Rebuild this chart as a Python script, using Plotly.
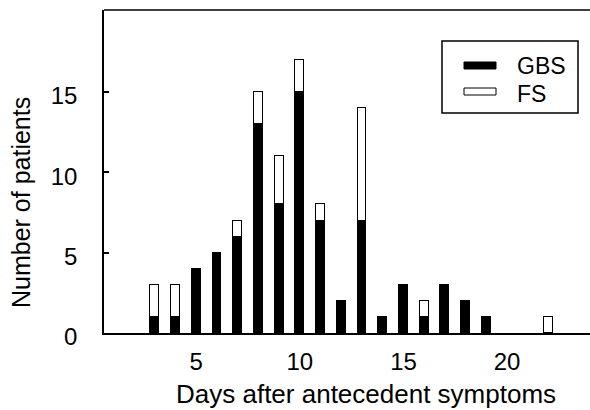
import plotly.graph_objects as go

days = [3, 4, 5, 6, 7, 8, 9, 10, 11, 12, 13, 14, 15, 16, 17, 18, 19, 22]
gbs = [1, 1, 4, 5, 6, 13, 8, 15, 7, 2, 7, 1, 3, 1, 3, 2, 1, 0]
fs = [2, 2, 0, 0, 1, 2, 3, 2, 1, 0, 7, 0, 0, 1, 0, 0, 0, 1]
x_ticks = [5, 10, 15, 20]
y_ticks = [0, 5, 10, 15]
series_names = ["GBS", "FS"]
x_title = "Days after antecedent symptoms"
y_title = "Number of patients"

FONT = "Liberation Sans, Arial, sans-serif"

fig = go.Figure()
fig.add_trace(go.Bar(x=days, y=gbs, name=series_names[0], width=0.43,
                     marker=dict(color="black", line=dict(color="black", width=1))))
fig.add_trace(go.Bar(x=days, y=fs, name=series_names[1], width=0.43,
                     marker=dict(color="white", line=dict(color="black", width=1))))

L, R, T, B = 104, 590, 10, 333
W, H = 590, 410


def px(x):
    return (x - L) / (R - L)


def py(y):
    return (B - y) / (B - T)


shapes = [
    # top frame line
    dict(type="line", xref="paper", yref="paper", x0=0, x1=1, y0=1, y1=1,
         line=dict(color="black", width=1.5)),
    # legend box
    dict(type="rect", xref="paper", yref="paper", x0=px(442), x1=px(578),
         y0=py(113), y1=py(41), line=dict(color="black", width=1.5)),
    dict(type="rect", xref="paper", yref="paper", x0=px(464), x1=px(496),
         y0=py(69), y1=py(62), fillcolor="black", line=dict(color="black", width=1)),
    dict(type="rect", xref="paper", yref="paper", x0=px(464), x1=px(496),
         y0=py(95), y1=py(88), fillcolor="white", line=dict(color="black", width=1)),
]
annotations = [
    dict(text=series_names[0], xref="paper", yref="paper", x=px(515), y=py(66),
         xanchor="left", yanchor="middle", showarrow=False,
         font=dict(family=FONT, size=23, color="black")),
    dict(text=series_names[1], xref="paper", yref="paper", x=px(515), y=py(94),
         xanchor="left", yanchor="middle", showarrow=False,
         font=dict(family=FONT, size=23, color="black")),
    dict(text=x_title, xref="paper", yref="paper", x=px(366), y=py(394),
         xanchor="center", yanchor="middle", showarrow=False,
         font=dict(family=FONT, size=26, color="black")),
    dict(text=y_title, xref="paper", yref="paper", x=px(21), y=py(203),
         xanchor="center", yanchor="middle", showarrow=False, textangle=-90,
         font=dict(family=FONT, size=25, color="black")),
]

fig.update_layout(
    width=W, height=H,
    margin=dict(l=L, r=W - R, t=T, b=H - B),
    barmode="stack",
    bargap=0,
    showlegend=False,
    plot_bgcolor="white",
    paper_bgcolor="white",
    font=dict(family=FONT, size=24, color="black"),
    shapes=shapes,
    annotations=annotations,
)
fig.update_xaxes(
    range=[0.55, 24], tickvals=x_ticks, ticks="", showgrid=False, zeroline=False,
    showline=True, linecolor="black", linewidth=1.5, ticklabelstandoff=6,
    tickfont=dict(family=FONT, size=24, color="black"),
)
fig.update_yaxes(
    range=[0, 20.1], tickvals=y_ticks, ticks="inside", ticklen=5, tickwidth=1.5,
    tickcolor="black", showgrid=False, zeroline=False,
    showline=True, linecolor="black", linewidth=1.5, ticklabelstandoff=20,
    ticklabelshift=4,
    tickfont=dict(family=FONT, size=24, color="black"),
)

fig.write_html("out.html")
